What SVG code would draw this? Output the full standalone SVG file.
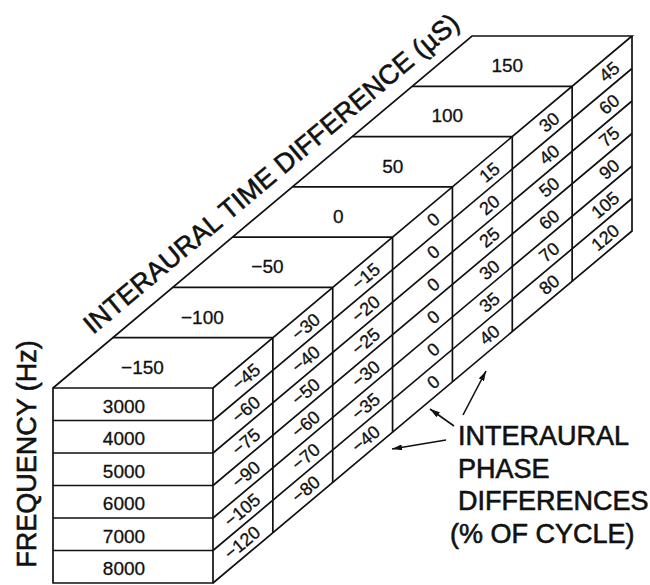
<svg xmlns="http://www.w3.org/2000/svg" width="650" height="585" viewBox="0 0 650 585">
<defs>
<style>
.ln{fill:none;stroke:#111;stroke-width:1.7;stroke-linejoin:miter}
.num{font-family:"Liberation Sans",Arial,sans-serif;font-size:19px;fill:#111;stroke:#111;stroke-width:0.3}
.side{font-family:"Liberation Sans",Arial,sans-serif;font-size:18px;fill:#111;stroke:#111;stroke-width:0.3;text-anchor:end}
.big{font-family:"Liberation Sans",Arial,sans-serif;font-size:27px;fill:#111;stroke:#111;stroke-width:0.6}
.arr{fill:none;stroke:#111;stroke-width:1.6}
</style>
<marker id="ah" viewBox="0 0 10 6" refX="10" refY="3" markerWidth="10" markerHeight="6" markerUnits="userSpaceOnUse" orient="auto">
<path d="M0,0 L10,3 L0,6 Z" fill="#111"/>
</marker>
</defs>
<rect width="650" height="585" fill="#fff"/>

<g id="box">
<path class="ln" d="M53,388 H213 V583 H53 Z"/>
<path class="ln" d="M53,388 L472,36 H632 L213,388"/>
<path class="ln" d="M632,36 V231 L213,583"/>
</g>

<g id="front-rows">
<path class="ln" d="M53,420.5 H213 M53,453 H213 M53,485.5 H213 M53,518 H213 M53,550.5 H213"/>
<g class="num" text-anchor="middle">
<text x="124" y="412.75">3000</text>
<text x="124" y="445.25">4000</text>
<text x="124" y="477.75">5000</text>
<text x="124" y="510.25">6000</text>
<text x="124" y="542.75">7000</text>
<text x="124" y="575.25">8000</text>
</g>
</g>

<g id="top-strips">
<path class="ln" d="M112.86,337.71 H272.86 M172.71,287.43 H332.71 M232.57,237.14 H392.57 M292.43,186.86 H452.43 M352.29,136.57 H512.29 M412.14,86.29 H572.14"/>
<g class="num" text-anchor="end">
<text x="163.9" y="373.9">−150</text>
<text x="223.8" y="323.6">−100</text>
<text x="283.6" y="273.3">−50</text>
<text x="343.5" y="223.0">0</text>
<text x="403.4" y="172.7">50</text>
<text x="463.2" y="122.4">100</text>
<text x="523.1" y="72.1">150</text>
</g>
</g>

<g id="side-grid">
<path class="ln" d="M272.86,337.71 V532.71 M332.71,287.43 V482.43 M392.57,237.14 V432.14 M452.43,186.86 V381.86 M512.29,136.57 V331.57 M572.14,86.29 V281.29"/>
<path class="ln" d="M213,420.5 L632,68.5 M213,453 L632,101 M213,485.5 L632,133.5 M213,518 L632,166 M213,550.5 L632,198.5"/>
</g>

<g id="col-m150" class="side">
<text transform="translate(242.93,379.11) rotate(-40)" x="19" y="6.5">−45</text>
<text transform="translate(242.93,411.61) rotate(-40)" x="19" y="6.5">−60</text>
<text transform="translate(242.93,444.11) rotate(-40)" x="19" y="6.5">−75</text>
<text transform="translate(242.93,476.61) rotate(-40)" x="19" y="6.5">−90</text>
<text transform="translate(242.93,509.11) rotate(-40)" x="19" y="6.5">−105</text>
<text transform="translate(242.93,541.61) rotate(-40)" x="19" y="6.5">−120</text>
</g>
<g id="col-m100" class="side">
<text transform="translate(302.79,328.82) rotate(-40)" x="19" y="6.5">−30</text>
<text transform="translate(302.79,361.32) rotate(-40)" x="19" y="6.5">−40</text>
<text transform="translate(302.79,393.82) rotate(-40)" x="19" y="6.5">−50</text>
<text transform="translate(302.79,426.32) rotate(-40)" x="19" y="6.5">−60</text>
<text transform="translate(302.79,458.82) rotate(-40)" x="19" y="6.5">−70</text>
<text transform="translate(302.79,491.32) rotate(-40)" x="19" y="6.5">−80</text>
</g>
<g id="col-m50" class="side">
<text transform="translate(362.64,278.54) rotate(-40)" x="19" y="6.5">−15</text>
<text transform="translate(362.64,311.04) rotate(-40)" x="19" y="6.5">−20</text>
<text transform="translate(362.64,343.54) rotate(-40)" x="19" y="6.5">−25</text>
<text transform="translate(362.64,376.04) rotate(-40)" x="19" y="6.5">−30</text>
<text transform="translate(362.64,408.54) rotate(-40)" x="19" y="6.5">−35</text>
<text transform="translate(362.64,441.04) rotate(-40)" x="19" y="6.5">−40</text>
</g>
<g id="col-0" class="side">
<text transform="translate(422.5,228.25) rotate(-40)" x="19" y="6.5">0</text>
<text transform="translate(422.5,260.75) rotate(-40)" x="19" y="6.5">0</text>
<text transform="translate(422.5,293.25) rotate(-40)" x="19" y="6.5">0</text>
<text transform="translate(422.5,325.75) rotate(-40)" x="19" y="6.5">0</text>
<text transform="translate(422.5,358.25) rotate(-40)" x="19" y="6.5">0</text>
<text transform="translate(422.5,390.75) rotate(-40)" x="19" y="6.5">0</text>
</g>
<g id="col-50" class="side">
<text transform="translate(482.36,177.96) rotate(-40)" x="19" y="6.5">15</text>
<text transform="translate(482.36,210.46) rotate(-40)" x="19" y="6.5">20</text>
<text transform="translate(482.36,242.96) rotate(-40)" x="19" y="6.5">25</text>
<text transform="translate(482.36,275.46) rotate(-40)" x="19" y="6.5">30</text>
<text transform="translate(482.36,307.96) rotate(-40)" x="19" y="6.5">35</text>
<text transform="translate(482.36,340.46) rotate(-40)" x="19" y="6.5">40</text>
</g>
<g id="col-100" class="side">
<text transform="translate(542.21,127.68) rotate(-40)" x="19" y="6.5">30</text>
<text transform="translate(542.21,160.18) rotate(-40)" x="19" y="6.5">40</text>
<text transform="translate(542.21,192.68) rotate(-40)" x="19" y="6.5">50</text>
<text transform="translate(542.21,225.18) rotate(-40)" x="19" y="6.5">60</text>
<text transform="translate(542.21,257.68) rotate(-40)" x="19" y="6.5">70</text>
<text transform="translate(542.21,290.18) rotate(-40)" x="19" y="6.5">80</text>
</g>
<g id="col-150" class="side">
<text transform="translate(602.07,77.39) rotate(-40)" x="19" y="6.5">45</text>
<text transform="translate(602.07,109.89) rotate(-40)" x="19" y="6.5">60</text>
<text transform="translate(602.07,142.39) rotate(-40)" x="19" y="6.5">75</text>
<text transform="translate(602.07,174.89) rotate(-40)" x="19" y="6.5">90</text>
<text transform="translate(602.07,207.39) rotate(-40)" x="19" y="6.5">105</text>
<text transform="translate(602.07,239.89) rotate(-40)" x="19" y="6.5">120</text>
</g>

<g id="axis-titles" class="big">
<text transform="translate(277,180.5) rotate(-40)" text-anchor="middle">INTERAURAL TIME DIFFERENCE (µS)</text>
<text transform="translate(35.5,454) rotate(-90)" text-anchor="middle">FREQUENCY (Hz)</text>
</g>

<g id="annotation" class="big">
<text x="458" y="445">INTERAURAL</text>
<text x="458" y="478">PHASE</text>
<text x="458" y="510">DIFFERENCES</text>
<text x="450" y="543">(% OF CYCLE)</text>
</g>

<g id="connectors">
<path class="arr" d="M463,415 L486,371" marker-end="url(#ah)"/>
<path class="arr" d="M454,426 L430,409" marker-end="url(#ah)"/>
<path class="arr" d="M446,440 L392,449" marker-end="url(#ah)"/>
</g>
</svg>
